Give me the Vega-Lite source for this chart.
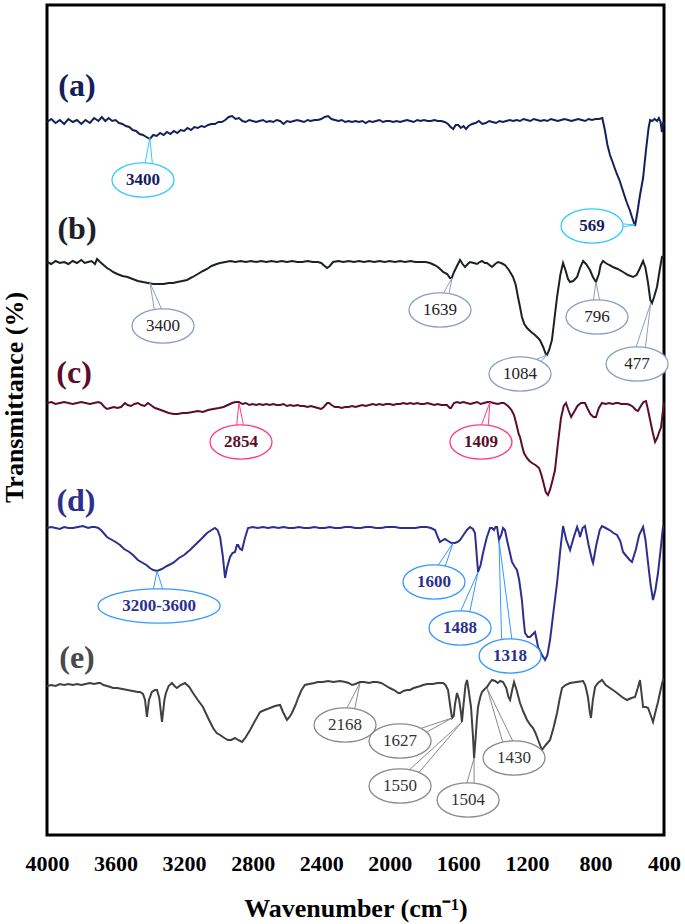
{
"$schema": "https://vega.github.io/schema/vega-lite/v6.json",
"width": 617, "height": 830,
"autosize": "none",
"padding": {"left": 47, "top": 5, "right": 21, "bottom": 89},
"background": "white",
"config": {"view": {"stroke": "black", "strokeWidth": 3}, "font": "Liberation Serif"},
"datasets": {
"spectra": [
{"s":"a","w":4000,"t":713},{"s":"a","w":3975,"t":716},{"s":"a","w":3950,"t":712},{"s":"a","w":3925,"t":715},{"s":"a","w":3900,"t":711},{"s":"a","w":3875,"t":716},{"s":"a","w":3850,"t":713},{"s":"a","w":3825,"t":715},{"s":"a","w":3800,"t":711},{"s":"a","w":3775,"t":715},{"s":"a","w":3750,"t":712},{"s":"a","w":3725,"t":717},{"s":"a","w":3700,"t":714},{"s":"a","w":3680,"t":718},{"s":"a","w":3660,"t":714},{"s":"a","w":3640,"t":717},{"s":"a","w":3620,"t":714},{"s":"a","w":3600,"t":715},{"s":"a","w":3580,"t":712},{"s":"a","w":3560,"t":711},{"s":"a","w":3540,"t":709},{"s":"a","w":3520,"t":708},{"s":"a","w":3500,"t":705},{"s":"a","w":3480,"t":704},{"s":"a","w":3460,"t":701},{"s":"a","w":3440,"t":700},{"s":"a","w":3420,"t":698},{"s":"a","w":3400,"t":696},{"s":"a","w":3380,"t":700},{"s":"a","w":3360,"t":699},{"s":"a","w":3340,"t":702},{"s":"a","w":3320,"t":700},{"s":"a","w":3300,"t":703},{"s":"a","w":3280,"t":701},{"s":"a","w":3260,"t":704},{"s":"a","w":3240,"t":702},{"s":"a","w":3220,"t":705},{"s":"a","w":3200,"t":704},{"s":"a","w":3180,"t":707},{"s":"a","w":3160,"t":705},{"s":"a","w":3140,"t":708},{"s":"a","w":3120,"t":707},{"s":"a","w":3100,"t":709},{"s":"a","w":3080,"t":708},{"s":"a","w":3060,"t":710},{"s":"a","w":3040,"t":711},{"s":"a","w":3020,"t":711},{"s":"a","w":3000,"t":713},{"s":"a","w":2980,"t":713},{"s":"a","w":2960,"t":715},{"s":"a","w":2940,"t":718},{"s":"a","w":2920,"t":719},{"s":"a","w":2900,"t":716},{"s":"a","w":2880,"t":717},{"s":"a","w":2860,"t":714},{"s":"a","w":2840,"t":713},{"s":"a","w":2820,"t":715},{"s":"a","w":2800,"t":714},{"s":"a","w":2780,"t":713},{"s":"a","w":2760,"t":714},{"s":"a","w":2740,"t":715},{"s":"a","w":2720,"t":713},{"s":"a","w":2700,"t":714},{"s":"a","w":2680,"t":713},{"s":"a","w":2660,"t":715},{"s":"a","w":2640,"t":714},{"s":"a","w":2620,"t":711},{"s":"a","w":2600,"t":714},{"s":"a","w":2580,"t":713},{"s":"a","w":2560,"t":714},{"s":"a","w":2540,"t":715},{"s":"a","w":2520,"t":714},{"s":"a","w":2500,"t":713},{"s":"a","w":2480,"t":715},{"s":"a","w":2460,"t":714},{"s":"a","w":2440,"t":715},{"s":"a","w":2420,"t":715},{"s":"a","w":2400,"t":716},{"s":"a","w":2380,"t":718},{"s":"a","w":2360,"t":719},{"s":"a","w":2340,"t":716},{"s":"a","w":2320,"t":715},{"s":"a","w":2300,"t":714},{"s":"a","w":2280,"t":715},{"s":"a","w":2260,"t":713},{"s":"a","w":2240,"t":714},{"s":"a","w":2220,"t":713},{"s":"a","w":2200,"t":714},{"s":"a","w":2180,"t":713},{"s":"a","w":2160,"t":714},{"s":"a","w":2140,"t":712},{"s":"a","w":2120,"t":714},{"s":"a","w":2100,"t":713},{"s":"a","w":2080,"t":714},{"s":"a","w":2060,"t":715},{"s":"a","w":2040,"t":713},{"s":"a","w":2020,"t":714},{"s":"a","w":2000,"t":714},{"s":"a","w":1980,"t":713},{"s":"a","w":1960,"t":714},{"s":"a","w":1940,"t":713},{"s":"a","w":1920,"t":714},{"s":"a","w":1900,"t":715},{"s":"a","w":1880,"t":714},{"s":"a","w":1860,"t":713},{"s":"a","w":1840,"t":715},{"s":"a","w":1820,"t":714},{"s":"a","w":1800,"t":715},{"s":"a","w":1780,"t":714},{"s":"a","w":1760,"t":714},{"s":"a","w":1740,"t":715},{"s":"a","w":1720,"t":714},{"s":"a","w":1700,"t":714},{"s":"a","w":1680,"t":713},{"s":"a","w":1660,"t":711},{"s":"a","w":1645,"t":708},{"s":"a","w":1630,"t":706},{"s":"a","w":1615,"t":710},{"s":"a","w":1600,"t":710},{"s":"a","w":1585,"t":707},{"s":"a","w":1570,"t":709},{"s":"a","w":1555,"t":706},{"s":"a","w":1540,"t":709},{"s":"a","w":1520,"t":711},{"s":"a","w":1500,"t":712},{"s":"a","w":1480,"t":714},{"s":"a","w":1460,"t":711},{"s":"a","w":1440,"t":712},{"s":"a","w":1420,"t":714},{"s":"a","w":1400,"t":713},{"s":"a","w":1380,"t":712},{"s":"a","w":1360,"t":714},{"s":"a","w":1340,"t":713},{"s":"a","w":1320,"t":714},{"s":"a","w":1300,"t":715},{"s":"a","w":1280,"t":714},{"s":"a","w":1260,"t":715},{"s":"a","w":1240,"t":714},{"s":"a","w":1220,"t":716},{"s":"a","w":1200,"t":715},{"s":"a","w":1180,"t":714},{"s":"a","w":1160,"t":716},{"s":"a","w":1140,"t":715},{"s":"a","w":1120,"t":714},{"s":"a","w":1100,"t":715},{"s":"a","w":1080,"t":714},{"s":"a","w":1060,"t":716},{"s":"a","w":1040,"t":715},{"s":"a","w":1020,"t":714},{"s":"a","w":1000,"t":715},{"s":"a","w":980,"t":716},{"s":"a","w":960,"t":715},{"s":"a","w":940,"t":714},{"s":"a","w":920,"t":715},{"s":"a","w":900,"t":716},{"s":"a","w":880,"t":715},{"s":"a","w":860,"t":714},{"s":"a","w":840,"t":716},{"s":"a","w":820,"t":715},{"s":"a","w":800,"t":716},{"s":"a","w":780,"t":716},{"s":"a","w":760,"t":717},{"s":"a","w":745,"t":705},{"s":"a","w":730,"t":690},{"s":"a","w":715,"t":680},{"s":"a","w":700,"t":673},{"s":"a","w":690,"t":668},{"s":"a","w":675,"t":661},{"s":"a","w":660,"t":655},{"s":"a","w":645,"t":647},{"s":"a","w":630,"t":639},{"s":"a","w":616,"t":632},{"s":"a","w":600,"t":625},{"s":"a","w":585,"t":617},{"s":"a","w":569,"t":609},{"s":"a","w":555,"t":623},{"s":"a","w":540,"t":640},{"s":"a","w":522,"t":657},{"s":"a","w":505,"t":685},{"s":"a","w":490,"t":707},{"s":"a","w":481,"t":715},{"s":"a","w":470,"t":714},{"s":"a","w":455,"t":716},{"s":"a","w":440,"t":714},{"s":"a","w":430,"t":717},{"s":"a","w":420,"t":713},{"s":"a","w":412,"t":703},{"s":"a","w":405,"t":713},{"s":"a","w":400,"t":710},
{"s":"b","w":4000,"t":573},{"s":"b","w":3975,"t":571},{"s":"b","w":3950,"t":574},{"s":"b","w":3925,"t":572},{"s":"b","w":3900,"t":573},{"s":"b","w":3875,"t":571},{"s":"b","w":3850,"t":574},{"s":"b","w":3825,"t":572},{"s":"b","w":3800,"t":575},{"s":"b","w":3780,"t":572},{"s":"b","w":3760,"t":573},{"s":"b","w":3740,"t":574},{"s":"b","w":3720,"t":571},{"s":"b","w":3708,"t":576},{"s":"b","w":3690,"t":573},{"s":"b","w":3670,"t":570},{"s":"b","w":3650,"t":567},{"s":"b","w":3630,"t":565},{"s":"b","w":3615,"t":563},{"s":"b","w":3590,"t":561},{"s":"b","w":3560,"t":559},{"s":"b","w":3530,"t":558},{"s":"b","w":3500,"t":556},{"s":"b","w":3470,"t":554},{"s":"b","w":3440,"t":553},{"s":"b","w":3410,"t":552},{"s":"b","w":3380,"t":551},{"s":"b","w":3350,"t":551},{"s":"b","w":3320,"t":551},{"s":"b","w":3290,"t":552},{"s":"b","w":3264,"t":552},{"s":"b","w":3240,"t":553},{"s":"b","w":3210,"t":554},{"s":"b","w":3183,"t":555},{"s":"b","w":3150,"t":558},{"s":"b","w":3120,"t":561},{"s":"b","w":3090,"t":564},{"s":"b","w":3066,"t":566},{"s":"b","w":3040,"t":569},{"s":"b","w":3010,"t":571},{"s":"b","w":2990,"t":572},{"s":"b","w":2960,"t":573},{"s":"b","w":2930,"t":574},{"s":"b","w":2900,"t":573},{"s":"b","w":2870,"t":574},{"s":"b","w":2840,"t":573},{"s":"b","w":2810,"t":574},{"s":"b","w":2780,"t":573},{"s":"b","w":2750,"t":574},{"s":"b","w":2720,"t":573},{"s":"b","w":2690,"t":574},{"s":"b","w":2660,"t":573},{"s":"b","w":2630,"t":574},{"s":"b","w":2600,"t":573},{"s":"b","w":2570,"t":574},{"s":"b","w":2540,"t":573},{"s":"b","w":2510,"t":573},{"s":"b","w":2480,"t":574},{"s":"b","w":2450,"t":573},{"s":"b","w":2420,"t":573},{"s":"b","w":2400,"t":572},{"s":"b","w":2380,"t":569},{"s":"b","w":2366,"t":567},{"s":"b","w":2350,"t":569},{"s":"b","w":2331,"t":573},{"s":"b","w":2300,"t":574},{"s":"b","w":2270,"t":573},{"s":"b","w":2240,"t":574},{"s":"b","w":2210,"t":573},{"s":"b","w":2180,"t":574},{"s":"b","w":2150,"t":573},{"s":"b","w":2120,"t":574},{"s":"b","w":2090,"t":573},{"s":"b","w":2060,"t":574},{"s":"b","w":2030,"t":573},{"s":"b","w":2000,"t":574},{"s":"b","w":1970,"t":573},{"s":"b","w":1940,"t":574},{"s":"b","w":1910,"t":573},{"s":"b","w":1880,"t":574},{"s":"b","w":1850,"t":573},{"s":"b","w":1820,"t":573},{"s":"b","w":1790,"t":573},{"s":"b","w":1765,"t":572},{"s":"b","w":1740,"t":570},{"s":"b","w":1720,"t":568},{"s":"b","w":1700,"t":565},{"s":"b","w":1689,"t":563},{"s":"b","w":1665,"t":561},{"s":"b","w":1649,"t":557},{"s":"b","w":1639,"t":557},{"s":"b","w":1625,"t":563},{"s":"b","w":1605,"t":570},{"s":"b","w":1590,"t":575},{"s":"b","w":1575,"t":571},{"s":"b","w":1561,"t":568},{"s":"b","w":1545,"t":571},{"s":"b","w":1532,"t":573},{"s":"b","w":1510,"t":572},{"s":"b","w":1491,"t":571},{"s":"b","w":1475,"t":573},{"s":"b","w":1462,"t":574},{"s":"b","w":1445,"t":572},{"s":"b","w":1433,"t":572},{"s":"b","w":1418,"t":570},{"s":"b","w":1404,"t":568},{"s":"b","w":1385,"t":571},{"s":"b","w":1369,"t":573},{"s":"b","w":1350,"t":572},{"s":"b","w":1328,"t":570},{"s":"b","w":1305,"t":565},{"s":"b","w":1281,"t":558},{"s":"b","w":1265,"t":550},{"s":"b","w":1252,"t":538},{"s":"b","w":1240,"t":528},{"s":"b","w":1229,"t":518},{"s":"b","w":1215,"t":511},{"s":"b","w":1199,"t":507},{"s":"b","w":1175,"t":503},{"s":"b","w":1153,"t":500},{"s":"b","w":1135,"t":497},{"s":"b","w":1124,"t":495},{"s":"b","w":1105,"t":488},{"s":"b","w":1090,"t":481},{"s":"b","w":1083,"t":480},{"s":"b","w":1070,"t":485},{"s":"b","w":1054,"t":495},{"s":"b","w":1040,"t":515},{"s":"b","w":1024,"t":538},{"s":"b","w":1005,"t":560},{"s":"b","w":989,"t":572},{"s":"b","w":975,"t":565},{"s":"b","w":960,"t":556},{"s":"b","w":948,"t":553},{"s":"b","w":930,"t":554},{"s":"b","w":907,"t":558},{"s":"b","w":890,"t":567},{"s":"b","w":872,"t":574},{"s":"b","w":855,"t":571},{"s":"b","w":832,"t":565},{"s":"b","w":815,"t":558},{"s":"b","w":797,"t":553},{"s":"b","w":780,"t":561},{"s":"b","w":770,"t":570},{"s":"b","w":756,"t":574},{"s":"b","w":740,"t":572},{"s":"b","w":720,"t":570},{"s":"b","w":698,"t":568},{"s":"b","w":670,"t":566},{"s":"b","w":639,"t":563},{"s":"b","w":610,"t":560},{"s":"b","w":581,"t":558},{"s":"b","w":560,"t":560},{"s":"b","w":540,"t":567},{"s":"b","w":522,"t":574},{"s":"b","w":508,"t":567},{"s":"b","w":493,"t":552},{"s":"b","w":480,"t":535},{"s":"b","w":470,"t":532},{"s":"b","w":458,"t":538},{"s":"b","w":441,"t":548},{"s":"b","w":425,"t":565},{"s":"b","w":412,"t":578},{"s":"b","w":400,"t":579},
{"s":"c","w":4000,"t":432},{"s":"c","w":3975,"t":433},{"s":"c","w":3950,"t":431},{"s":"c","w":3925,"t":432},{"s":"c","w":3900,"t":433},{"s":"c","w":3875,"t":432},{"s":"c","w":3850,"t":431},{"s":"c","w":3825,"t":432},{"s":"c","w":3800,"t":433},{"s":"c","w":3775,"t":432},{"s":"c","w":3750,"t":431},{"s":"c","w":3725,"t":432},{"s":"c","w":3700,"t":433},{"s":"c","w":3685,"t":432},{"s":"c","w":3665,"t":428},{"s":"c","w":3650,"t":426},{"s":"c","w":3630,"t":427},{"s":"c","w":3610,"t":428},{"s":"c","w":3590,"t":427},{"s":"c","w":3568,"t":428},{"s":"c","w":3545,"t":432},{"s":"c","w":3530,"t":430},{"s":"c","w":3510,"t":429},{"s":"c","w":3490,"t":431},{"s":"c","w":3469,"t":432},{"s":"c","w":3450,"t":430},{"s":"c","w":3430,"t":429},{"s":"c","w":3411,"t":432},{"s":"c","w":3395,"t":430},{"s":"c","w":3370,"t":427},{"s":"c","w":3352,"t":426},{"s":"c","w":3320,"t":424},{"s":"c","w":3290,"t":422},{"s":"c","w":3260,"t":421},{"s":"c","w":3236,"t":421},{"s":"c","w":3210,"t":422},{"s":"c","w":3183,"t":422},{"s":"c","w":3150,"t":423},{"s":"c","w":3120,"t":424},{"s":"c","w":3090,"t":423},{"s":"c","w":3060,"t":425},{"s":"c","w":3030,"t":426},{"s":"c","w":2996,"t":427},{"s":"c","w":2970,"t":428},{"s":"c","w":2945,"t":430},{"s":"c","w":2920,"t":432},{"s":"c","w":2900,"t":433},{"s":"c","w":2880,"t":433},{"s":"c","w":2860,"t":431},{"s":"c","w":2840,"t":432},{"s":"c","w":2820,"t":430},{"s":"c","w":2800,"t":431},{"s":"c","w":2780,"t":430},{"s":"c","w":2760,"t":431},{"s":"c","w":2740,"t":430},{"s":"c","w":2720,"t":431},{"s":"c","w":2700,"t":430},{"s":"c","w":2680,"t":431},{"s":"c","w":2660,"t":430},{"s":"c","w":2640,"t":430},{"s":"c","w":2620,"t":431},{"s":"c","w":2600,"t":429},{"s":"c","w":2580,"t":430},{"s":"c","w":2560,"t":429},{"s":"c","w":2540,"t":430},{"s":"c","w":2520,"t":429},{"s":"c","w":2500,"t":429},{"s":"c","w":2480,"t":428},{"s":"c","w":2460,"t":429},{"s":"c","w":2440,"t":428},{"s":"c","w":2420,"t":427},{"s":"c","w":2400,"t":426},{"s":"c","w":2385,"t":428},{"s":"c","w":2365,"t":432},{"s":"c","w":2354,"t":432},{"s":"c","w":2340,"t":430},{"s":"c","w":2320,"t":428},{"s":"c","w":2300,"t":428},{"s":"c","w":2280,"t":427},{"s":"c","w":2260,"t":428},{"s":"c","w":2240,"t":428},{"s":"c","w":2220,"t":429},{"s":"c","w":2200,"t":428},{"s":"c","w":2180,"t":429},{"s":"c","w":2160,"t":430},{"s":"c","w":2140,"t":429},{"s":"c","w":2120,"t":430},{"s":"c","w":2100,"t":431},{"s":"c","w":2080,"t":430},{"s":"c","w":2060,"t":431},{"s":"c","w":2040,"t":430},{"s":"c","w":2020,"t":431},{"s":"c","w":2000,"t":431},{"s":"c","w":1980,"t":430},{"s":"c","w":1960,"t":431},{"s":"c","w":1940,"t":431},{"s":"c","w":1920,"t":432},{"s":"c","w":1900,"t":431},{"s":"c","w":1880,"t":432},{"s":"c","w":1860,"t":431},{"s":"c","w":1840,"t":432},{"s":"c","w":1820,"t":431},{"s":"c","w":1800,"t":431},{"s":"c","w":1780,"t":432},{"s":"c","w":1760,"t":431},{"s":"c","w":1740,"t":430},{"s":"c","w":1720,"t":431},{"s":"c","w":1700,"t":430},{"s":"c","w":1680,"t":430},{"s":"c","w":1666,"t":430},{"s":"c","w":1650,"t":427},{"s":"c","w":1643,"t":427},{"s":"c","w":1625,"t":432},{"s":"c","w":1608,"t":433},{"s":"c","w":1590,"t":432},{"s":"c","w":1570,"t":433},{"s":"c","w":1550,"t":432},{"s":"c","w":1530,"t":431},{"s":"c","w":1510,"t":432},{"s":"c","w":1490,"t":433},{"s":"c","w":1470,"t":431},{"s":"c","w":1450,"t":432},{"s":"c","w":1430,"t":433},{"s":"c","w":1415,"t":433},{"s":"c","w":1395,"t":432},{"s":"c","w":1370,"t":431},{"s":"c","w":1350,"t":432},{"s":"c","w":1334,"t":432},{"s":"c","w":1310,"t":429},{"s":"c","w":1290,"t":425},{"s":"c","w":1275,"t":420},{"s":"c","w":1260,"t":410},{"s":"c","w":1248,"t":401},{"s":"c","w":1240,"t":398},{"s":"c","w":1228,"t":389},{"s":"c","w":1217,"t":382},{"s":"c","w":1200,"t":377},{"s":"c","w":1185,"t":374},{"s":"c","w":1170,"t":372},{"s":"c","w":1150,"t":370},{"s":"c","w":1129,"t":367},{"s":"c","w":1115,"t":360},{"s":"c","w":1100,"t":350},{"s":"c","w":1090,"t":343},{"s":"c","w":1077,"t":340},{"s":"c","w":1065,"t":345},{"s":"c","w":1050,"t":355},{"s":"c","w":1036,"t":365},{"s":"c","w":1020,"t":390},{"s":"c","w":1001,"t":417},{"s":"c","w":985,"t":429},{"s":"c","w":972,"t":432},{"s":"c","w":958,"t":425},{"s":"c","w":942,"t":418},{"s":"c","w":925,"t":423},{"s":"c","w":905,"t":429},{"s":"c","w":885,"t":432},{"s":"c","w":861,"t":432},{"s":"c","w":845,"t":426},{"s":"c","w":830,"t":421},{"s":"c","w":812,"t":418},{"s":"c","w":797,"t":418},{"s":"c","w":780,"t":427},{"s":"c","w":762,"t":432},{"s":"c","w":740,"t":431},{"s":"c","w":720,"t":432},{"s":"c","w":700,"t":431},{"s":"c","w":680,"t":432},{"s":"c","w":668,"t":432},{"s":"c","w":650,"t":431},{"s":"c","w":630,"t":431},{"s":"c","w":615,"t":431},{"s":"c","w":598,"t":430},{"s":"c","w":580,"t":428},{"s":"c","w":565,"t":425},{"s":"c","w":552,"t":424},{"s":"c","w":535,"t":429},{"s":"c","w":520,"t":433},{"s":"c","w":505,"t":434},{"s":"c","w":493,"t":425},{"s":"c","w":481,"t":415},{"s":"c","w":465,"t":402},{"s":"c","w":452,"t":393},{"s":"c","w":440,"t":397},{"s":"c","w":428,"t":403},{"s":"c","w":417,"t":408},{"s":"c","w":408,"t":422},{"s":"c","w":400,"t":432},
{"s":"d","w":4000,"t":307},{"s":"d","w":3975,"t":308},{"s":"d","w":3950,"t":307},{"s":"d","w":3925,"t":306},{"s":"d","w":3900,"t":308},{"s":"d","w":3875,"t":307},{"s":"d","w":3848,"t":307},{"s":"d","w":3820,"t":308},{"s":"d","w":3790,"t":309},{"s":"d","w":3760,"t":307},{"s":"d","w":3740,"t":308},{"s":"d","w":3720,"t":308},{"s":"d","w":3700,"t":307},{"s":"d","w":3680,"t":304},{"s":"d","w":3650,"t":298},{"s":"d","w":3620,"t":295},{"s":"d","w":3600,"t":293},{"s":"d","w":3574,"t":290},{"s":"d","w":3550,"t":286},{"s":"d","w":3520,"t":283},{"s":"d","w":3498,"t":280},{"s":"d","w":3470,"t":275},{"s":"d","w":3440,"t":272},{"s":"d","w":3420,"t":270},{"s":"d","w":3400,"t":267},{"s":"d","w":3380,"t":265},{"s":"d","w":3358,"t":264},{"s":"d","w":3330,"t":266},{"s":"d","w":3300,"t":269},{"s":"d","w":3264,"t":272},{"s":"d","w":3230,"t":277},{"s":"d","w":3200,"t":280},{"s":"d","w":3166,"t":285},{"s":"d","w":3130,"t":291},{"s":"d","w":3100,"t":296},{"s":"d","w":3066,"t":302},{"s":"d","w":3040,"t":305},{"s":"d","w":3020,"t":307},{"s":"d","w":3005,"t":305},{"s":"d","w":2990,"t":298},{"s":"d","w":2975,"t":280},{"s":"d","w":2961,"t":257},{"s":"d","w":2950,"t":267},{"s":"d","w":2932,"t":278},{"s":"d","w":2918,"t":282},{"s":"d","w":2903,"t":283},{"s":"d","w":2892,"t":290},{"s":"d","w":2885,"t":290},{"s":"d","w":2873,"t":286},{"s":"d","w":2862,"t":285},{"s":"d","w":2845,"t":297},{"s":"d","w":2827,"t":307},{"s":"d","w":2800,"t":308},{"s":"d","w":2770,"t":307},{"s":"d","w":2740,"t":308},{"s":"d","w":2710,"t":307},{"s":"d","w":2680,"t":308},{"s":"d","w":2650,"t":307},{"s":"d","w":2620,"t":308},{"s":"d","w":2590,"t":307},{"s":"d","w":2560,"t":307},{"s":"d","w":2530,"t":308},{"s":"d","w":2500,"t":307},{"s":"d","w":2470,"t":307},{"s":"d","w":2440,"t":308},{"s":"d","w":2410,"t":307},{"s":"d","w":2380,"t":307},{"s":"d","w":2350,"t":308},{"s":"d","w":2320,"t":307},{"s":"d","w":2290,"t":307},{"s":"d","w":2260,"t":308},{"s":"d","w":2230,"t":308},{"s":"d","w":2200,"t":307},{"s":"d","w":2170,"t":307},{"s":"d","w":2140,"t":308},{"s":"d","w":2110,"t":308},{"s":"d","w":2080,"t":307},{"s":"d","w":2050,"t":307},{"s":"d","w":2020,"t":308},{"s":"d","w":2000,"t":308},{"s":"d","w":1970,"t":308},{"s":"d","w":1940,"t":307},{"s":"d","w":1910,"t":307},{"s":"d","w":1880,"t":307},{"s":"d","w":1850,"t":307},{"s":"d","w":1820,"t":308},{"s":"d","w":1785,"t":308},{"s":"d","w":1760,"t":307},{"s":"d","w":1736,"t":305},{"s":"d","w":1720,"t":298},{"s":"d","w":1707,"t":293},{"s":"d","w":1690,"t":295},{"s":"d","w":1678,"t":296},{"s":"d","w":1660,"t":294},{"s":"d","w":1640,"t":292},{"s":"d","w":1620,"t":292},{"s":"d","w":1605,"t":293},{"s":"d","w":1590,"t":295},{"s":"d","w":1570,"t":300},{"s":"d","w":1550,"t":305},{"s":"d","w":1532,"t":308},{"s":"d","w":1515,"t":306},{"s":"d","w":1503,"t":302},{"s":"d","w":1495,"t":285},{"s":"d","w":1485,"t":263},{"s":"d","w":1470,"t":270},{"s":"d","w":1456,"t":282},{"s":"d","w":1435,"t":297},{"s":"d","w":1415,"t":307},{"s":"d","w":1403,"t":307},{"s":"d","w":1392,"t":305},{"s":"d","w":1383,"t":308},{"s":"d","w":1374,"t":308},{"s":"d","w":1363,"t":295},{"s":"d","w":1350,"t":300},{"s":"d","w":1339,"t":307},{"s":"d","w":1328,"t":305},{"s":"d","w":1316,"t":295},{"s":"d","w":1300,"t":283},{"s":"d","w":1287,"t":273},{"s":"d","w":1270,"t":268},{"s":"d","w":1258,"t":265},{"s":"d","w":1245,"t":255},{"s":"d","w":1229,"t":235},{"s":"d","w":1220,"t":217},{"s":"d","w":1211,"t":202},{"s":"d","w":1195,"t":198},{"s":"d","w":1182,"t":198},{"s":"d","w":1170,"t":200},{"s":"d","w":1153,"t":203},{"s":"d","w":1145,"t":197},{"s":"d","w":1135,"t":188},{"s":"d","w":1115,"t":181},{"s":"d","w":1094,"t":175},{"s":"d","w":1080,"t":180},{"s":"d","w":1065,"t":195},{"s":"d","w":1045,"t":223},{"s":"d","w":1024,"t":252},{"s":"d","w":1005,"t":285},{"s":"d","w":989,"t":309},{"s":"d","w":970,"t":295},{"s":"d","w":948,"t":285},{"s":"d","w":928,"t":297},{"s":"d","w":907,"t":308},{"s":"d","w":895,"t":302},{"s":"d","w":890,"t":298},{"s":"d","w":875,"t":307},{"s":"d","w":861,"t":309},{"s":"d","w":840,"t":290},{"s":"d","w":820,"t":275},{"s":"d","w":814,"t":272},{"s":"d","w":795,"t":290},{"s":"d","w":775,"t":305},{"s":"d","w":762,"t":309},{"s":"d","w":740,"t":307},{"s":"d","w":718,"t":305},{"s":"d","w":695,"t":302},{"s":"d","w":674,"t":300},{"s":"d","w":655,"t":294},{"s":"d","w":639,"t":283},{"s":"d","w":620,"t":279},{"s":"d","w":600,"t":275},{"s":"d","w":587,"t":273},{"s":"d","w":565,"t":285},{"s":"d","w":545,"t":300},{"s":"d","w":522,"t":308},{"s":"d","w":508,"t":295},{"s":"d","w":493,"t":272},{"s":"d","w":478,"t":250},{"s":"d","w":464,"t":235},{"s":"d","w":450,"t":245},{"s":"d","w":435,"t":262},{"s":"d","w":420,"t":285},{"s":"d","w":406,"t":308},{"s":"d","w":400,"t":308},
{"s":"e","w":4000,"t":149},{"s":"e","w":3975,"t":150},{"s":"e","w":3950,"t":149},{"s":"e","w":3925,"t":151},{"s":"e","w":3900,"t":150},{"s":"e","w":3875,"t":151},{"s":"e","w":3850,"t":150},{"s":"e","w":3825,"t":151},{"s":"e","w":3800,"t":150},{"s":"e","w":3775,"t":151},{"s":"e","w":3750,"t":152},{"s":"e","w":3725,"t":151},{"s":"e","w":3700,"t":152},{"s":"e","w":3690,"t":152},{"s":"e","w":3670,"t":150},{"s":"e","w":3650,"t":149},{"s":"e","w":3630,"t":148},{"s":"e","w":3615,"t":147},{"s":"e","w":3590,"t":147},{"s":"e","w":3560,"t":146},{"s":"e","w":3530,"t":145},{"s":"e","w":3500,"t":144},{"s":"e","w":3470,"t":143},{"s":"e","w":3457,"t":143},{"s":"e","w":3440,"t":141},{"s":"e","w":3428,"t":135},{"s":"e","w":3417,"t":118},{"s":"e","w":3405,"t":135},{"s":"e","w":3388,"t":143},{"s":"e","w":3370,"t":145},{"s":"e","w":3358,"t":145},{"s":"e","w":3345,"t":137},{"s":"e","w":3329,"t":113},{"s":"e","w":3315,"t":135},{"s":"e","w":3306,"t":142},{"s":"e","w":3290,"t":149},{"s":"e","w":3271,"t":152},{"s":"e","w":3256,"t":149},{"s":"e","w":3242,"t":147},{"s":"e","w":3220,"t":150},{"s":"e","w":3195,"t":152},{"s":"e","w":3170,"t":148},{"s":"e","w":3148,"t":142},{"s":"e","w":3120,"t":135},{"s":"e","w":3090,"t":128},{"s":"e","w":3060,"t":117},{"s":"e","w":3031,"t":107},{"s":"e","w":3010,"t":102},{"s":"e","w":2990,"t":100},{"s":"e","w":2965,"t":97},{"s":"e","w":2944,"t":95},{"s":"e","w":2925,"t":95},{"s":"e","w":2903,"t":97},{"s":"e","w":2885,"t":95},{"s":"e","w":2862,"t":93},{"s":"e","w":2840,"t":98},{"s":"e","w":2815,"t":105},{"s":"e","w":2790,"t":113},{"s":"e","w":2757,"t":123},{"s":"e","w":2730,"t":125},{"s":"e","w":2699,"t":127},{"s":"e","w":2670,"t":129},{"s":"e","w":2640,"t":130},{"s":"e","w":2623,"t":123},{"s":"e","w":2600,"t":115},{"s":"e","w":2585,"t":118},{"s":"e","w":2571,"t":122},{"s":"e","w":2550,"t":130},{"s":"e","w":2535,"t":137},{"s":"e","w":2515,"t":145},{"s":"e","w":2495,"t":150},{"s":"e","w":2470,"t":151},{"s":"e","w":2440,"t":152},{"s":"e","w":2420,"t":153},{"s":"e","w":2390,"t":153},{"s":"e","w":2360,"t":154},{"s":"e","w":2330,"t":153},{"s":"e","w":2290,"t":154},{"s":"e","w":2260,"t":153},{"s":"e","w":2240,"t":152},{"s":"e","w":2220,"t":150},{"s":"e","w":2200,"t":151},{"s":"e","w":2174,"t":153},{"s":"e","w":2150,"t":153},{"s":"e","w":2120,"t":152},{"s":"e","w":2100,"t":153},{"s":"e","w":2075,"t":153},{"s":"e","w":2050,"t":152},{"s":"e","w":2020,"t":149},{"s":"e","w":2000,"t":147},{"s":"e","w":1975,"t":145},{"s":"e","w":1950,"t":142},{"s":"e","w":1940,"t":142},{"s":"e","w":1920,"t":144},{"s":"e","w":1900,"t":145},{"s":"e","w":1882,"t":145},{"s":"e","w":1860,"t":147},{"s":"e","w":1840,"t":148},{"s":"e","w":1820,"t":149},{"s":"e","w":1806,"t":150},{"s":"e","w":1780,"t":151},{"s":"e","w":1750,"t":151},{"s":"e","w":1720,"t":152},{"s":"e","w":1700,"t":152},{"s":"e","w":1689,"t":152},{"s":"e","w":1675,"t":150},{"s":"e","w":1660,"t":145},{"s":"e","w":1648,"t":130},{"s":"e","w":1637,"t":117},{"s":"e","w":1627,"t":119},{"s":"e","w":1620,"t":130},{"s":"e","w":1608,"t":142},{"s":"e","w":1595,"t":135},{"s":"e","w":1585,"t":123},{"s":"e","w":1579,"t":113},{"s":"e","w":1570,"t":130},{"s":"e","w":1558,"t":150},{"s":"e","w":1549,"t":155},{"s":"e","w":1540,"t":145},{"s":"e","w":1526,"t":128},{"s":"e","w":1515,"t":100},{"s":"e","w":1508,"t":77},{"s":"e","w":1500,"t":95},{"s":"e","w":1492,"t":115},{"s":"e","w":1485,"t":128},{"s":"e","w":1472,"t":138},{"s":"e","w":1462,"t":143},{"s":"e","w":1446,"t":146},{"s":"e","w":1433,"t":148},{"s":"e","w":1418,"t":152},{"s":"e","w":1404,"t":155},{"s":"e","w":1385,"t":154},{"s":"e","w":1370,"t":152},{"s":"e","w":1355,"t":154},{"s":"e","w":1339,"t":153},{"s":"e","w":1320,"t":147},{"s":"e","w":1308,"t":138},{"s":"e","w":1298,"t":135},{"s":"e","w":1286,"t":145},{"s":"e","w":1275,"t":153},{"s":"e","w":1260,"t":145},{"s":"e","w":1240,"t":132},{"s":"e","w":1220,"t":123},{"s":"e","w":1199,"t":115},{"s":"e","w":1180,"t":110},{"s":"e","w":1164,"t":107},{"s":"e","w":1150,"t":102},{"s":"e","w":1130,"t":93},{"s":"e","w":1112,"t":85},{"s":"e","w":1090,"t":90},{"s":"e","w":1065,"t":95},{"s":"e","w":1045,"t":107},{"s":"e","w":1024,"t":122},{"s":"e","w":1010,"t":135},{"s":"e","w":995,"t":147},{"s":"e","w":975,"t":150},{"s":"e","w":948,"t":152},{"s":"e","w":910,"t":153},{"s":"e","w":872,"t":154},{"s":"e","w":860,"t":150},{"s":"e","w":850,"t":143},{"s":"e","w":843,"t":137},{"s":"e","w":833,"t":123},{"s":"e","w":826,"t":117},{"s":"e","w":815,"t":135},{"s":"e","w":802,"t":148},{"s":"e","w":785,"t":152},{"s":"e","w":762,"t":155},{"s":"e","w":740,"t":150},{"s":"e","w":715,"t":147},{"s":"e","w":690,"t":144},{"s":"e","w":674,"t":142},{"s":"e","w":645,"t":138},{"s":"e","w":616,"t":135},{"s":"e","w":590,"t":137},{"s":"e","w":569,"t":138},{"s":"e","w":553,"t":147},{"s":"e","w":540,"t":155},{"s":"e","w":530,"t":140},{"s":"e","w":522,"t":128},{"s":"e","w":505,"t":128},{"s":"e","w":493,"t":127},{"s":"e","w":478,"t":120},{"s":"e","w":464,"t":113},{"s":"e","w":450,"t":123},{"s":"e","w":435,"t":133},{"s":"e","w":420,"t":145},{"s":"e","w":406,"t":155},{"s":"e","w":400,"t":155}
],
"leaders": [
{"s":"a","w":3400,"t":697,"w2":3446,"t2":655},{"s":"a","w":3400,"t":697,"w2":3376,"t2":655},
{"s":"a","w":569,"t":610,"w2":820,"t2":614},{"s":"a","w":569,"t":610,"w2":820,"t2":604},
{"s":"b","w":3399,"t":552,"w2":3358,"t2":509},{"s":"b","w":3399,"t":552,"w2":3288,"t2":509},
{"s":"b","w":1637,"t":557,"w2":1742,"t2":525},{"s":"b","w":1637,"t":557,"w2":1672,"t2":525},
{"s":"b","w":797,"t":553,"w2":826,"t2":518},{"s":"b","w":797,"t":553,"w2":756,"t2":518},
{"s":"b","w":1083,"t":480,"w2":1263,"t2":467},{"s":"b","w":1083,"t":480,"w2":1217,"t2":455},
{"s":"b","w":477,"t":532,"w2":592,"t2":473},{"s":"b","w":477,"t":532,"w2":522,"t2":469},
{"s":"c","w":2880,"t":432,"w2":2903,"t2":393},{"s":"c","w":2880,"t":432,"w2":2833,"t2":393},
{"s":"c","w":1415,"t":433,"w2":1503,"t2":393},{"s":"c","w":1415,"t":433,"w2":1433,"t2":393},
{"s":"d","w":3358,"t":264,"w2":3399,"t2":229},{"s":"d","w":3358,"t":264,"w2":3294,"t2":229},
{"s":"d","w":1631,"t":292,"w2":1771,"t2":256},{"s":"d","w":1631,"t":292,"w2":1713,"t2":250},
{"s":"d","w":1485,"t":263,"w2":1625,"t2":209},{"s":"d","w":1485,"t":263,"w2":1555,"t2":205},
{"s":"d","w":1363,"t":295,"w2":1345,"t2":179},{"s":"d","w":1363,"t":295,"w2":1275,"t2":179},
{"s":"e","w":2174,"t":152,"w2":2296,"t2":112},{"s":"e","w":2174,"t":152,"w2":2226,"t2":108},
{"s":"e","w":1637,"t":117,"w2":1952,"t2":99},{"s":"e","w":1637,"t":117,"w2":1929,"t2":89},
{"s":"e","w":1579,"t":113,"w2":1964,"t2":53},{"s":"e","w":1579,"t":113,"w2":1917,"t2":45},
{"s":"e","w":1508,"t":77,"w2":1579,"t2":35},{"s":"e","w":1508,"t":77,"w2":1508,"t2":35},
{"s":"e","w":1433,"t":147,"w2":1310,"t2":75},{"s":"e","w":1433,"t":147,"w2":1240,"t2":79}
],
"callouts": [
{"s":"a","label":"3400","w":3440,"t":655},
{"s":"a","label":"569","w":820,"t":609},
{"s":"b","label":"3400","w":3323,"t":509},
{"s":"b","label":"1639","w":1707,"t":525},
{"s":"b","label":"796","w":791,"t":518},
{"s":"b","label":"1084","w":1240,"t":461},
{"s":"b","label":"477","w":557,"t":471},
{"s":"c","label":"2854","w":2868,"t":393},
{"s":"c","label":"1409","w":1468,"t":393},
{"s":"d","label":"3200-3600","w":3346,"t":229},
{"s":"d","label":"1600","w":1742,"t":253},
{"s":"d","label":"1488","w":1590,"t":207},
{"s":"d","label":"1318","w":1298,"t":179},
{"s":"e","label":"2168","w":2261,"t":110},
{"s":"e","label":"1627","w":1940,"t":94},
{"s":"e","label":"1550","w":1940,"t":49},
{"s":"e","label":"1504","w":1543,"t":35},
{"s":"e","label":"1430","w":1275,"t":77}
],
"names": [
{"s":"a","label":"(a)","w":3825,"t":749},
{"s":"b","label":"(b)","w":3825,"t":606},
{"s":"c","label":"(c)","w":3842,"t":462},
{"s":"d","label":"(d)","w":3831,"t":334},
{"s":"e","label":"(e)","w":3825,"t":177}
]
},
"layer": [
{
"data": {"name": "spectra"},
"mark": {"type": "line", "strokeWidth": 2, "interpolate": "linear"},
"encoding": {
"x": {"field": "w", "type": "quantitative",
 "scale": {"domain": [400, 4000], "reverse": true, "nice": false, "zero": false},
 "axis": {"values": [4000, 3600, 3200, 2800, 2400, 2000, 1600, 1200, 800, 400], "format": "d", "ticks": false, "tickSize": 0, "domain": false, "grid": false,
  "labelFont": "Liberation Serif", "labelFontSize": 22, "labelFontWeight": "bold", "labelColor": "black", "labelFlush": false, "labelOverlap": false, "labelBaseline": "middle", "labelPadding": 28,
  "title": "Wavenumber (cm⁻¹)", "titleFont": "Liberation Serif", "titleFontSize": 26, "titleFontWeight": "bold", "titleColor": "black", "titleY": 73, "titleBaseline": "middle"}},
"y": {"field": "t", "type": "quantitative",
 "scale": {"domain": [0, 830], "nice": false, "zero": false},
 "axis": {"labels": false, "ticks": false, "domain": false, "grid": false,
  "title": "Transmittance  (%)", "titleFont": "Liberation Serif", "titleFontSize": 26, "titleFontWeight": "bold", "titleColor": "black", "titleX": -33, "titleY": 392, "titleAngle": -90, "titleAlign": "center", "titleBaseline": "middle"}},
"color": {"field": "s", "type": "nominal", "legend": null,
 "scale": {"domain": ["a","b","c","d","e"], "range": ["#13215a","#1c2126","#5b0d2d","#2c2f8e","#404040"]}},
"detail": {"field": "s"}
}
},
{
"data": {"name": "leaders"},
"mark": {"type": "rule", "strokeWidth": 1},
"encoding": {
"x": {"field": "w", "type": "quantitative"},
"y": {"field": "t", "type": "quantitative"},
"x2": {"field": "w2"},
"y2": {"field": "t2"},
"color": {"field": "s", "type": "nominal", "legend": null,
 "scale": {"domain": ["a","b","c","d","e"], "range": ["#33ccff","#8c9fbf","#ff3d7f","#3399ff","#8a8a8a"]}}
}
},
{
"data": {"name": "callouts"},
"transform": [{"filter": "datum.label != '3200-3600'"}],
"mark": {"type": "point", "shape": "M -1 0 A 1 0.55 0 1 0 1 0 A 1 0.55 0 1 0 -1 0 Z", "size": 3844, "filled": true, "fill": "white", "fillOpacity": 1, "strokeWidth": 1.3, "opacity": 1},
"encoding": {
"x": {"field": "w", "type": "quantitative"},
"y": {"field": "t", "type": "quantitative"},
"stroke": {"field": "s", "type": "nominal", "legend": null,
 "scale": {"domain": ["a","b","c","d","e"], "range": ["#33ccff","#8c9fbf","#ff3d7f","#3399ff","#8a8a8a"]}}
}
},
{
"data": {"name": "callouts"},
"transform": [{"filter": "datum.label == '3200-3600'"}],
"mark": {"type": "point", "shape": "M -1 0 A 1 0.28 0 1 0 1 0 A 1 0.28 0 1 0 -1 0 Z", "size": 14884, "filled": true, "fill": "white", "fillOpacity": 1, "strokeWidth": 1.3, "opacity": 1},
"encoding": {
"x": {"field": "w", "type": "quantitative"},
"y": {"field": "t", "type": "quantitative"},
"stroke": {"field": "s", "type": "nominal", "legend": null,
 "scale": {"domain": ["a","b","c","d","e"], "range": ["#33ccff","#8c9fbf","#ff3d7f","#3399ff","#8a8a8a"]}}
}
},
{
"data": {"name": "callouts"},
"transform": [{"filter": "datum.s == 'a' || datum.s == 'c' || datum.s == 'd'"}],
"mark": {"type": "text", "font": "Liberation Serif", "fontSize": 17, "fontWeight": "bold", "align": "center", "baseline": "middle"},
"encoding": {
"x": {"field": "w", "type": "quantitative"},
"y": {"field": "t", "type": "quantitative"},
"text": {"field": "label"},
"color": {"field": "s", "type": "nominal", "legend": null,
 "scale": {"domain": ["a","b","c","d","e"], "range": ["#13215a","#222222","#5b0d2d","#2c2f8e","#333333"]}}
}
},
{
"data": {"name": "callouts"},
"transform": [{"filter": "datum.s == 'b' || datum.s == 'e'"}],
"mark": {"type": "text", "font": "Liberation Serif", "fontSize": 17, "fontWeight": "normal", "align": "center", "baseline": "middle"},
"encoding": {
"x": {"field": "w", "type": "quantitative"},
"y": {"field": "t", "type": "quantitative"},
"text": {"field": "label"},
"color": {"field": "s", "type": "nominal", "legend": null,
 "scale": {"domain": ["a","b","c","d","e"], "range": ["#13215a","#222222","#5b0d2d","#2c2f8e","#333333"]}}
}
},
{
"data": {"name": "names"},
"mark": {"type": "text", "font": "Liberation Serif", "fontSize": 32, "fontWeight": "bold", "align": "center", "baseline": "middle"},
"encoding": {
"x": {"field": "w", "type": "quantitative"},
"y": {"field": "t", "type": "quantitative"},
"text": {"field": "label"},
"color": {"field": "s", "type": "nominal", "legend": null,
 "scale": {"domain": ["a","b","c","d","e"], "range": ["#13215a","#1c2126","#5b0d2d","#2c2f8e","#4a4a4a"]}}
}
}
],
"resolve": {"scale": {"color": "independent", "stroke": "independent"}}
}
